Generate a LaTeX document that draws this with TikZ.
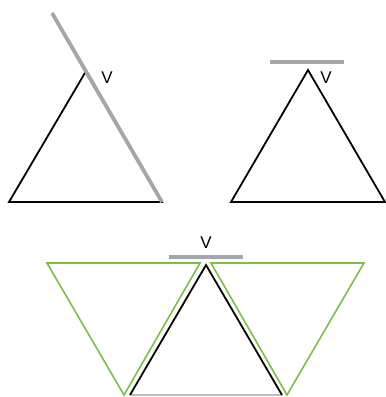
\documentclass[tikz,border=0pt]{standalone}
\usepackage{fontspec}
\setsansfont{Liberation Sans}
\usepackage{xcolor}
\usetikzlibrary{positioning}

\definecolor{linegray}{HTML}{A2A7AA}
\definecolor{basegray}{HTML}{BDBDBD}
\definecolor{trigreen}{HTML}{7DBE4B}

\begin{document}
\begin{tikzpicture}[
  x=1pt, y=-1pt,
  font=\sffamily\fontsize{17}{17}\selectfont,
  tri/.style={draw=black, line width=1.8pt, line join=miter},
  flip/.style={draw=trigreen, line width=1.6pt, line join=miter},
  supp/.style={draw=linegray, line width=3.8pt},
  vlbl/.style={inner sep=0pt, anchor=center},
]
\useasboundingbox (0,0) rectangle (386,397);

%% ===== TOP LEFT: LINE THROUGH V =====
\coordinate (aL) at (9,202);
\coordinate (aR) at (162,202);
\coordinate (aV) at (85.5,72);
\coordinate (aS) at (52,13);
\draw[tri] (aL) -- (aV) -- (aR) -- cycle;
\draw[supp] (aS) -- (aR);
\node[vlbl] (aLab) at (107,77.5) {V};

%% ===== TOP RIGHT: LINE ABOVE V =====
\coordinate (bL) at (231,202);
\coordinate (bR) at (385,202);
\coordinate (bV) at (308,70);
\coordinate (bS1) at (270,62);
\coordinate (bS2) at (344,62);
\draw[tri] (bL) -- (bV) -- (bR) -- cycle;
\draw[supp] (bS1) -- (bS2);
\node[vlbl] (bLab) at (326,77.5) {V};

%% ===== BOTTOM: FLIPPED COPIES =====
\coordinate (cL) at (130,395);
\coordinate (cR) at (282,395);
\coordinate (cV) at (206,265);
\coordinate (cS1) at (169,257);
\coordinate (cS2) at (243,257);
\draw[flip] (47,263) coordinate (gA) -- (200,263) coordinate (gB)
  -- (124,395) coordinate (gC) -- cycle;
\draw[flip] (211,263) coordinate (hA) -- (364,263) coordinate (hB)
  -- (287,395) coordinate (hC) -- cycle;
\draw[basegray, line width=1.6pt] (cL) -- (cR);
\draw[tri] (cL) -- (cV) -- (cR);
\draw[supp] (cS1) -- (cS2);
\node[vlbl] (cLab) at (206,242.5) {V};

\end{tikzpicture}
\end{document}
